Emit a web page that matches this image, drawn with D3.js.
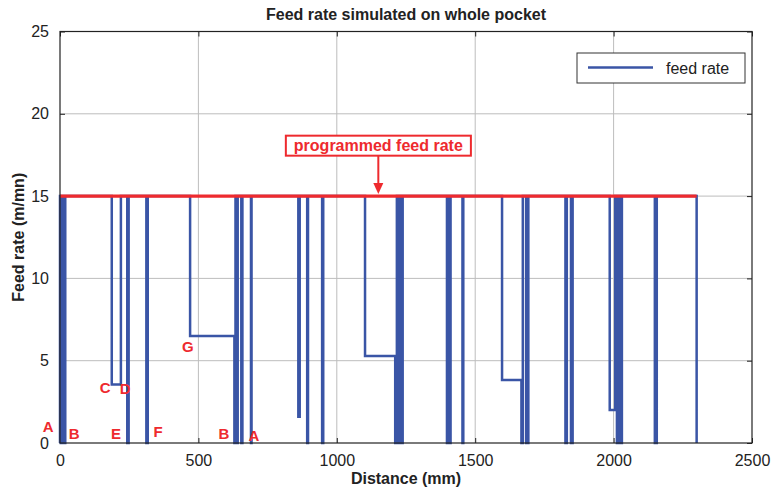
<!DOCTYPE html>
<html lang="en">

<head>
	<script src='https://d3js.org/d3.v7.min.js'></script>
	<style>
		body { margin: 0; background: #fff; }
		text { font-family: "Liberation Sans", Arial, sans-serif; }
	</style>
</head>

<body>
	<script>
    // simulated feed rate (distance in mm, feed in m/mn)
    const distance = [0, 0, 3, 3, 5, 5, 14, 14, 19, 19,
      187, 187, 220, 220, 243, 243, 248, 248, 312, 312, 317, 317,
      470, 470, 630, 630, 634, 634, 638, 638, 642, 642,
      655, 655, 659, 659, 690, 690, 692, 692,
      861, 861, 866, 866, 893, 893, 896, 896, 947, 947, 951, 951,
      1102, 1102, 1211, 1211, 1217, 1217, 1222, 1222, 1226, 1226, 1233, 1233, 1238, 1238,
      1398, 1398, 1402, 1402, 1406, 1406, 1411, 1411, 1454, 1454, 1457, 1457,
      1597, 1597, 1667, 1667, 1672, 1672, 1684, 1684, 1692, 1692,
      1826, 1826, 1831, 1831, 1846, 1846, 1852, 1852,
      1986, 1986, 2006, 2006, 2012, 2012, 2018, 2018, 2024, 2024, 2030, 2030,
      2149, 2149, 2156, 2156, 2300, 2300];
    const feed = [0, 15, 15, 0, 0, 15, 15, 0, 0, 15,
      15, 3.55, 3.55, 15, 15, 0, 0, 15, 15, 0, 0, 15,
      15, 6.5, 6.5, 0, 0, 15, 15, 0, 0, 15,
      15, 0, 0, 15, 15, 0, 0, 15,
      15, 1.6, 1.6, 15, 15, 0, 0, 15, 15, 0, 0, 15,
      15, 5.28, 5.28, 0, 0, 15, 15, 0, 0, 15, 15, 0, 0, 15,
      15, 0, 0, 15, 15, 0, 0, 15, 15, 0, 0, 15,
      15, 3.83, 3.83, 0, 0, 15, 15, 0, 0, 15,
      15, 0, 0, 15, 15, 0, 0, 15,
      15, 2.0, 2.0, 15, 15, 0, 0, 15, 15, 0, 0, 15,
      15, 0, 0, 15, 15, 0];

    const programmed = {start: 0, end: 2300, value: 15};

    // point labels (letters) in data coordinates
    const letters = ["A", "B", "E", "F", "C", "D", "G", "B", "A"];
    const letterX = [-43, 51, 202, 354, 163, 235, 462, 592, 701];
    const letterY = [1.0, 0.55, 0.55, 0.67, 3.34, 3.28, 5.83, 0.55, 0.43];

    const xTicks = [0, 500, 1000, 1500, 2000, 2500];
    const yTicks = [0, 5, 10, 15, 20, 25];

    const W = 771, H = 488;
    const margin = {top: 31.5, right: 19, bottom: 45, left: 60};
    const width = W - margin.left - margin.right;
    const height = H - margin.top - margin.bottom;

    var svg = d3.select('body')
      .append('svg')
      .attr('width', W)
      .attr('height', H);

    var g = svg.append('g')
      .attr('transform', 'translate(' + margin.left + ',' + margin.top + ')');

    var x = d3.scaleLinear().domain([0, 2500]).range([0, width]);
    var y = d3.scaleLinear().domain([0, 25]).range([height, 0]);

    // grid
    g.append('g').selectAll('line')
      .data(xTicks.slice(1, -1)).enter().append('line')
      .attr('x1', d => x(d)).attr('x2', d => x(d))
      .attr('y1', 0).attr('y2', height)
      .attr('stroke', '#bdbdbd').attr('stroke-width', 1);
    g.append('g').selectAll('line')
      .data(yTicks.slice(1, -1)).enter().append('line')
      .attr('x1', 0).attr('x2', width)
      .attr('y1', d => y(d)).attr('y2', d => y(d))
      .attr('stroke', '#bdbdbd').attr('stroke-width', 1);

    // axes, ticks pointing inward like matlab
    function styleAxis(sel, labels) {
      sel.select('.domain').remove();
      sel.selectAll('.tick line').attr('stroke', '#222');
      sel.selectAll('.tick text')
        .style('font-size', '16px')
        .attr('fill', '#222')
        .style('display', labels ? null : 'none');
    }
    g.append('g')
      .attr('transform', 'translate(0,' + height + ')')
      .call(d3.axisBottom(x).tickValues(xTicks).tickSizeInner(-5).tickPadding(12).tickFormat(d3.format('d')))
      .call(styleAxis, true);
    g.append('g')
      .call(d3.axisTop(x).tickValues(xTicks).tickSizeInner(-5))
      .call(styleAxis, false);
    g.append('g')
      .call(d3.axisLeft(y).tickValues(yTicks).tickSizeInner(-5).tickPadding(11))
      .call(styleAxis, true);
    g.append('g')
      .attr('transform', 'translate(' + width + ',0)')
      .call(d3.axisRight(y).tickValues(yTicks).tickSizeInner(-5))
      .call(styleAxis, false);

    // feed rate line
    var line = d3.line()
      .x((d, i) => x(distance[i]))
      .y((d, i) => y(feed[i]));
    g.append('path')
      .datum(distance)
      .attr('d', line)
      .attr('fill', 'none')
      .attr('stroke', '#3a55a6')
      .attr('stroke-width', 2.5)
      .attr('stroke-linejoin', 'miter');

    // programmed feed rate
    g.append('line')
      .attr('x1', x(programmed.start)).attr('x2', x(programmed.end))
      .attr('y1', y(programmed.value)).attr('y2', y(programmed.value))
      .attr('stroke', '#ee2a2e')
      .attr('stroke-width', 3.2);

    // frame
    g.append('rect')
      .attr('width', width).attr('height', height)
      .attr('fill', 'none')
      .attr('stroke', '#222')
      .attr('stroke-width', 1.2);

    // letters
    g.append('g').selectAll('text')
      .data(letters).enter().append('text')
      .attr('x', (d, i) => x(letterX[i]))
      .attr('y', (d, i) => y(letterY[i]))
      .attr('dy', '0.35em')
      .attr('text-anchor', 'middle')
      .attr('fill', '#ee2a2e')
      .style('font-size', '15px')
      .style('font-weight', 'bold')
      .text(d => d);

    // annotation: programmed feed rate
    var ann = g.append('g');
    var annX = x(1150);
    var annText = ann.append('text')
      .attr('x', annX)
      .attr('y', y(18.1))
      .attr('dy', '0.35em')
      .attr('text-anchor', 'middle')
      .attr('fill', '#ee2a2e')
      .style('font-size', '16px')
      .style('font-weight', 'bold')
      .text('programmed feed rate');
    var bb = annText.node().getBBox();
    ann.insert('rect', 'text')
      .attr('x', bb.x - 8).attr('y', bb.y - 1)
      .attr('width', bb.width + 16).attr('height', bb.height + 3)
      .attr('fill', '#fff')
      .attr('stroke', '#ee2a2e')
      .attr('stroke-width', 2);
    var arrowTop = bb.y + bb.height + 2;
    var arrowTip = y(15) - 2;
    ann.append('line')
      .attr('x1', annX).attr('x2', annX)
      .attr('y1', arrowTop).attr('y2', arrowTip - 8)
      .attr('stroke', '#ee2a2e').attr('stroke-width', 2);
    ann.append('path')
      .attr('d', 'M' + (annX - 5) + ',' + (arrowTip - 11) + 'L' + (annX + 5) + ',' + (arrowTip - 11) + 'L' + annX + ',' + arrowTip + 'Z')
      .attr('fill', '#ee2a2e');

    // legend
    var leg = svg.append('g').attr('transform', 'translate(577,53)');
    leg.append('rect')
      .attr('width', 168).attr('height', 30)
      .attr('fill', '#fff')
      .attr('stroke', '#333')
      .attr('stroke-width', 1);
    leg.append('line')
      .attr('x1', 11).attr('x2', 76)
      .attr('y1', 14.5).attr('y2', 14.5)
      .attr('stroke', '#3a55a6').attr('stroke-width', 2.5);
    leg.append('text')
      .attr('x', 89).attr('y', 15)
      .attr('dy', '0.35em')
      .style('font-size', '16px')
      .attr('fill', '#222')
      .text('feed rate');

    // titles
    svg.append('text')
      .attr('x', margin.left + width / 2).attr('y', 20)
      .attr('text-anchor', 'middle')
      .style('font-size', '16px').style('font-weight', 'bold')
      .attr('fill', '#222')
      .text('Feed rate simulated on whole pocket');
    svg.append('text')
      .attr('x', margin.left + width / 2).attr('y', 484)
      .attr('text-anchor', 'middle')
      .style('font-size', '16px').style('font-weight', 'bold')
      .attr('fill', '#222')
      .text('Distance (mm)');
    svg.append('text')
      .attr('transform', 'translate(24,' + (margin.top + height / 2) + ') rotate(-90)')
      .attr('text-anchor', 'middle')
      .style('font-size', '16px').style('font-weight', 'bold')
      .attr('fill', '#222')
      .text('Feed rate (m/mn)');
	</script>

</body>

</html>
